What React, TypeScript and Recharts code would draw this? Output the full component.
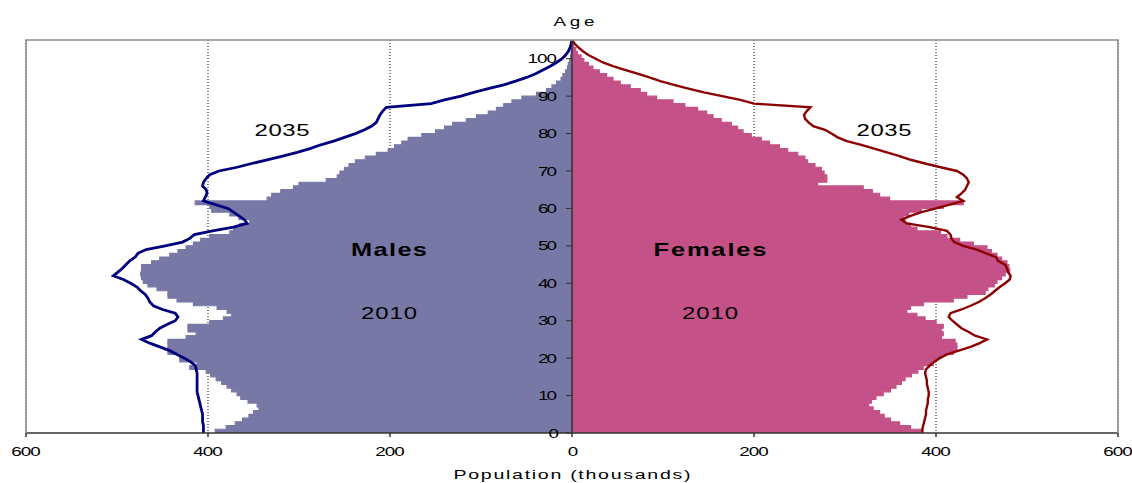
import React from "react";
import {
  Bar,
  CartesianGrid,
  ComposedChart,
  Line,
  ReferenceLine,
  XAxis,
  YAxis,
} from "recharts";

// population in thousands, single year of age 0..105
const MALE_2010 = [
  392, 380, 370, 362, 355, 350, 344, 346, 356, 364,
  368, 374, 379, 385, 391, 397, 402, 420, 412, 431,
  431, 444, 444, 444, 444, 424, 413, 422, 422, 398,
  383, 374, 379, 390, 416, 434, 444, 444, 456, 466,
  471, 473, 474, 473, 473, 462, 453, 442, 433, 424,
  416, 408, 398, 376, 372, 365, 354, 366, 376, 396,
  398, 414, 335, 330, 320, 306, 300, 270, 258, 255,
  250, 245, 238, 227, 215, 202, 195, 187, 180, 165,
  150, 140, 131, 116, 105, 92, 83, 75, 66, 55,
  39, 28, 22, 17, 12, 10, 7, 5, 4, 2.5,
  1.5, 1, 0.7, 0.4, 0.2, 0,
];

const FEMALE_2010 = [
  384, 372, 360, 350, 343, 338, 331, 326, 329, 334,
  342, 350, 356, 362, 366, 373, 380, 386, 397, 400,
  406, 419, 423, 423, 421, 406, 408, 406, 408, 400,
  388, 379, 368, 372, 386, 419, 434, 454, 457, 464,
  467, 472, 476, 481, 480, 478, 472, 467, 461, 456,
  441, 426, 412, 405, 379, 372, 366, 364, 370, 384,
  408, 430, 349, 338, 330, 320, 270, 280, 280, 277,
  274, 267, 259, 256, 248, 237, 228, 217, 208, 197,
  188, 182, 175, 164, 155, 148, 138, 124, 111, 93,
  82, 75, 64, 53, 45, 38, 30, 23, 18, 13,
  10, 6, 4, 2, 1, 0,
];

const MALE_2035 = [
  405, 405, 405, 406, 406, 406, 407, 408, 409, 410,
  411, 412, 412, 412, 412, 412, 412, 413, 414, 419,
  426, 434, 442, 453, 464, 473, 462, 458, 453, 445,
  436, 433, 436, 450, 460, 464, 466, 469, 474, 478,
  485, 493, 504, 499, 494, 490, 486, 480, 477, 468,
  447, 428, 420, 415, 395, 372, 357, 360, 366, 372,
  378, 392, 405, 403, 401, 402, 406, 405, 402, 398,
  388, 368, 352, 335, 318, 302, 288, 276, 262, 250,
  238, 228, 220, 215, 213, 211, 208, 204, 155, 140,
  122, 108, 92, 75, 62, 50, 40, 32, 24, 17,
  11, 7, 4, 2, 1, 0,
];

const FEMALE_2035 = [
  385, 385, 386, 387, 388, 389, 389, 390, 391, 391,
  392, 392, 391, 390, 390, 389, 388, 389, 393, 398,
  404, 412, 425, 438, 448, 456, 443, 436, 428, 423,
  418, 414, 416, 428, 438, 447, 454, 460, 465, 470,
  476, 481, 482, 479, 478, 476, 468, 466, 455, 445,
  430, 420, 417, 416, 412, 393, 368, 362, 372, 384,
  400, 415, 430, 423, 428, 432, 434, 436, 434, 430,
  423, 405, 388, 372, 360, 346, 332, 318, 302, 292,
  285, 278, 265, 260, 256, 255, 258, 262, 200, 185,
  165, 145, 128, 112, 97, 85, 72, 58, 45, 34,
  26, 18, 12, 7, 3, 0,
];

const AGES = MALE_2010.map((_, i) => i);
const X_TICKS = [-600, -400, -200, 0, 200, 400, 600];
const Y_TICKS = [0, 10, 20, 30, 40, 50, 60, 70, 80, 90, 100];

const data = AGES.map((age, i) => ({
  age,
  mid: age + 0.5,
  m2010: -MALE_2010[i],
  f2010: FEMALE_2010[i],
  m2035: -MALE_2035[i],
  f2035: FEMALE_2035[i],
}));

const W = 1132;
const H = 483;
const PLOT = { left: 26, top: 40, right: 1118, bottom: 433 };
const CENTER_X = (PLOT.left + PLOT.right) / 2;
const BAND = (PLOT.bottom - PLOT.top) / 105;
const FONT = '"Liberation Sans", Arial, sans-serif';
const SX = 1.45;

const MALE_FILL = "#7878a6";
const FEMALE_FILL = "#c45187";

// width of a digit label as drawn in the picture
const labelWidth = (s: string) => (s.length === 1 ? 8.5 : s.length * 10.3 - 1.5);

function WideText({ x, y, w, size, text, bold, anchor = "middle" }: any) {
  const left = anchor === "middle" ? x - w / 2 : anchor === "end" ? x - w : x;
  return (
    <text
      transform={`translate(${left},${y}) scale(${SX},1)`}
      x={0}
      y={0}
      fontFamily={FONT}
      fontSize={size}
      fontWeight={bold ? "bold" : "normal"}
      fill="#000"
      textLength={text.length > 1 ? w / SX : undefined}
      lengthAdjust="spacing"
    >
      {text}
    </text>
  );
}

function XTick({ x, payload }: any) {
  const s = String(Math.abs(payload.value));
  return <WideText x={x} y={PLOT.bottom + 23} w={labelWidth(s)} size={13} text={s} />;
}

// the age axis sits in the middle of the plot, between males and females
function YTick({ y, payload }: any) {
  const s = String(payload.value);
  return (
    <g>
      <line x1={CENTER_X - 6} x2={CENTER_X} y1={y} y2={y} stroke="#333" strokeWidth={1} />
      <WideText x={CENTER_X - 15} y={y + 4.5} w={labelWidth(s)} size={13} text={s} anchor="end" />
    </g>
  );
}

export default function App() {
  return (
    <div
      style={{
        position: "fixed",
        left: 0,
        top: 0,
        width: W,
        height: H,
        background: "#fff",
      }}
    >
      <ComposedChart
        width={W}
        height={H}
        data={data}
        layout="vertical"
        stackOffset="sign"
        barCategoryGap={0}
        barGap={0}
        margin={{ top: PLOT.top, right: W - PLOT.right, bottom: H - PLOT.bottom - 30, left: PLOT.left - 1 }}
      >
        <CartesianGrid
          yAxisId="age"
          horizontal={false}
          stroke="#000"
          strokeDasharray="1 2"
        />
        <XAxis
          type="number"
          domain={[-600, 600]}
          ticks={X_TICKS}
          interval={0}
          height={30}
          tickSize={4}
          stroke="#333"
          strokeWidth={1.5}
          tick={<XTick />}
          allowDataOverflow
        />
        <YAxis
          yAxisId="bar"
          dataKey="mid"
          type="number"
          domain={[0, 105]}
          hide
          reversed
          allowDataOverflow
        />
        <Bar
          yAxisId="bar"
          dataKey="m2010"
          stackId="p"
          fill={MALE_FILL}
          stroke={MALE_FILL}
          strokeWidth={1.2}
          barSize={BAND - 0.01}
          isAnimationActive={false}
        />
        <Bar
          yAxisId="bar"
          dataKey="f2010"
          stackId="p"
          fill={FEMALE_FILL}
          stroke={FEMALE_FILL}
          strokeWidth={1.2}
          barSize={BAND - 0.01}
          isAnimationActive={false}
        />
        <Line
          yAxisId="age"
          type="linear"
          dataKey="m2035"
          stroke="#00007f"
          strokeWidth={2.8}
          dot={false}
          isAnimationActive={false}
        />
        <Line
          yAxisId="age"
          type="linear"
          dataKey="f2035"
          stroke="#8b0000"
          strokeWidth={2.4}
          dot={false}
          isAnimationActive={false}
        />
        <ReferenceLine yAxisId="age" x={0} stroke="#333" strokeWidth={1.5} />
        <YAxis
          yAxisId="age"
          dataKey="age"
          type="number"
          domain={[0, 105]}
          ticks={Y_TICKS}
          interval={0}
          width={1}
          axisLine={false}
          tickLine={false}
          tick={<YTick />}
          reversed
          allowDataOverflow
        />
      </ComposedChart>
      <svg
        width={W}
        height={H}
        style={{ position: "absolute", left: 0, top: 0, pointerEvents: "none" }}
      >
        <path
          d={`M${PLOT.left},${PLOT.bottom} V${PLOT.top} H${PLOT.right} V${PLOT.bottom}`}
          fill="none"
          stroke="#8c8c8c"
          strokeWidth={1.5}
        />
        <WideText x={574} y={26} w={41} size={13} text="Age" />
        <WideText x={572} y={479} w={237} size={13.5} text="Population (thousands)" />
        <WideText x={282} y={136} w={55} size={16.5} text="2035" />
        <WideText x={884} y={136} w={55} size={16.5} text="2035" />
        <WideText x={389} y={256} w={76} size={17.5} text="Males" bold />
        <WideText x={710} y={256} w={113} size={17.5} text="Females" bold />
        <WideText x={389} y={319} w={56} size={16.5} text="2010" />
        <WideText x={710} y={319} w={56} size={16.5} text="2010" />
      </svg>
    </div>
  );
}
